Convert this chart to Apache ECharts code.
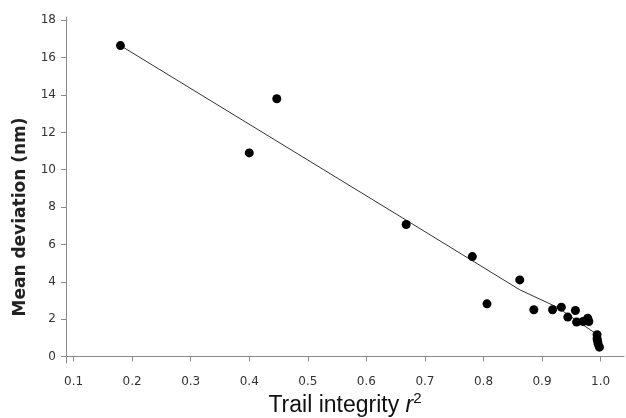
<!DOCTYPE html>
<html>
<head>
<meta charset="utf-8">
<script src="https://cdn.jsdelivr.net/npm/echarts@6/dist/echarts.min.js"></script>
<style>html,body{margin:0;padding:0;background:#fff;}#c{width:626px;height:418px;}</style>
</head>
<body>
<div id="c"></div>
<script>
// Scatter points: trail integrity r^2 (x) vs mean deviation in nm (y)
const pointX = [0.18, 0.40, 0.447, 0.668, 0.781, 0.806, 0.862, 0.886, 0.918, 0.933, 0.944, 0.957, 0.959, 0.970, 0.978, 0.980, 0.994, 0.994, 0.995, 0.996, 0.998];
const pointY = [16.65, 10.9, 13.8, 7.07, 5.35, 2.82, 4.10, 2.50, 2.50, 2.64, 2.11, 2.46, 1.84, 1.87, 2.05, 1.87, 1.16, 0.95, 0.80, 0.65, 0.50];
// Fitted trend line
const lineX = [0.18, 0.668, 0.862, 0.925, 0.993];
const lineY = [16.65, 7.3, 3.57, 2.65, 1.2];
const xTicks = [0.1, 0.2, 0.3, 0.4, 0.5, 0.6, 0.7, 0.8, 0.9, 1.0];
const yTicks = [0, 2, 4, 6, 8, 10, 12, 14, 16, 18];

const chart = echarts.init(document.getElementById('c'));
const axisGray = '#8a8a8a';
chart.setOption({
  animation: false,
  backgroundColor: '#fff',
  grid: { left: 66, right: 2, top: 17, bottom: 55, containLabel: false, outerBoundsMode: 'none' },
  xAxis: {
    type: 'value', min: 0.087, max: 1.04,
    name: '{a|Trail integrity }{i|r}{s|2}',
    nameLocation: 'middle', nameGap: 28, nameMoveOverlap: false,
    nameTextStyle: {
      rich: {
        a: { fontFamily: 'Liberation Sans', fontSize: 23, color: '#111', verticalAlign: 'bottom', lineHeight: 26 },
        i: { fontFamily: 'Liberation Sans', fontSize: 23, fontStyle: 'italic', color: '#111', verticalAlign: 'bottom', lineHeight: 26 },
        s: { fontFamily: 'Liberation Sans', fontSize: 15, color: '#111', verticalAlign: 'top', lineHeight: 26 }
      }
    },
    axisLine: { lineStyle: { color: axisGray, width: 1 } },
    axisTick: { show: true, customValues: xTicks, length: 5, lineStyle: { color: axisGray } },
    axisLabel: { customValues: xTicks, margin: 13, fontFamily: 'DejaVu Sans', fontSize: 12, color: '#333',
      formatter: v => v.toFixed(1) },
    splitLine: { show: false }
  },
  yAxis: {
    type: 'value', min: -0.35, max: 18.18,
    name: 'Mean deviation (nm)',
    nameLocation: 'middle', nameGap: 37,
    nameTextStyle: { fontFamily: 'DejaVu Sans', fontSize: 17, fontWeight: 'bold', color: '#222', padding: [0, 54, 0, 0] },
    axisLine: { show: true, lineStyle: { color: axisGray, width: 1 } },
    axisTick: { show: true, customValues: yTicks, length: 5, lineStyle: { color: axisGray } },
    axisLabel: { customValues: yTicks, margin: 10, fontFamily: 'DejaVu Sans', fontSize: 12, color: '#333' },
    splitLine: { show: false }
  },
  series: [
    {
      type: 'line',
      data: lineX.map((x, i) => [x, lineY[i]]),
      showSymbol: false, symbol: 'none',
      lineStyle: { color: '#333', width: 1 },
      z: 1
    },
    {
      type: 'scatter',
      data: pointX.map((x, i) => [x, pointY[i]]),
      symbol: 'circle', symbolSize: 9,
      itemStyle: { color: '#000', opacity: 1 },
      z: 2
    }
  ]
});
</script>
</body>
</html>
